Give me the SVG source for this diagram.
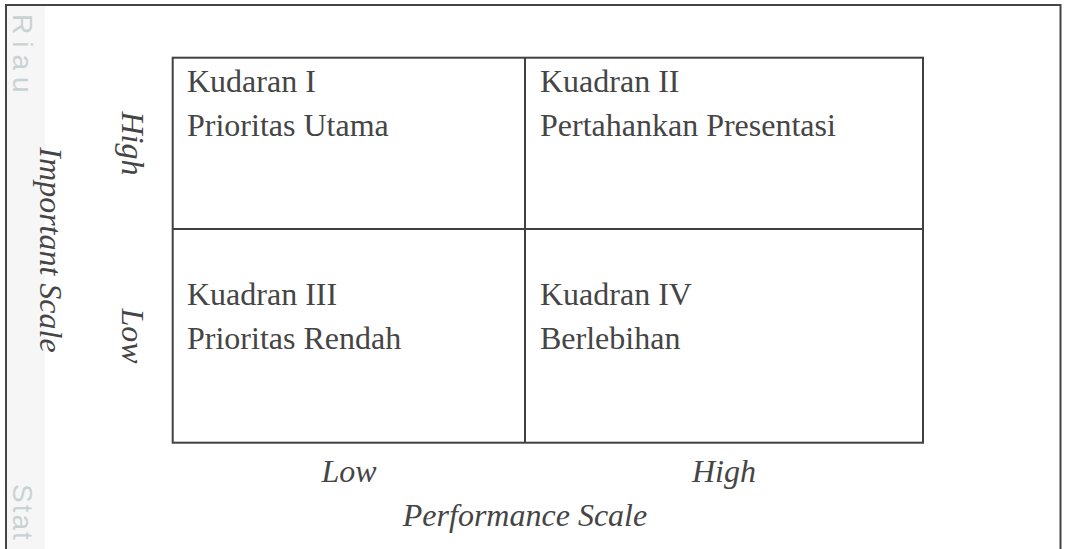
<svg xmlns="http://www.w3.org/2000/svg" width="1066" height="549" viewBox="0 0 1066 549">
  <style>
    .frame { fill: none; stroke: #454545; stroke-width: 2; }
    .grid { fill: none; stroke: #404040; stroke-width: 2; }
    .t { font-family: "Liberation Serif", "Times New Roman", serif; font-size: 32px; fill: #454545; }
    .ax { font-family: "Liberation Serif", "Times New Roman", serif; font-size: 32px; font-style: italic; fill: #454545; text-anchor: middle; }
    .wm { font-family: "Liberation Sans", Arial, sans-serif; font-size: 28px; fill: #c9d2d2; }
  </style>
  <rect x="0" y="0" width="1066" height="549" fill="#ffffff"/>
  <rect x="7" y="6" width="38" height="543" fill="#f6f6f6"/>
  <g id="watermark-text">
    <text class="wm" letter-spacing="7" transform="translate(13,14) rotate(90)">Riau</text>
    <text class="wm" letter-spacing="2" transform="translate(13,484) rotate(90)">Stat</text>
  </g>
  <g id="frame">
    <path class="frame" d="M6,560 L6,5 L1060.5,5 L1060.5,560"/>
  </g>
  <g id="connectors">
    <line class="grid" x1="172.7" y1="229" x2="923" y2="229"/>
    <line class="grid" x1="525" y1="57.7" x2="525" y2="442.7"/>
  </g>
  <g id="grid-border">
    <rect class="grid" x="172.7" y="57.7" width="750.3" height="385"/>
  </g>
  <g id="q1">
    <text class="t" x="187" y="92">Kudaran I</text>
    <text class="t" x="187" y="136">Prioritas Utama</text>
  </g>
  <g id="q2">
    <text class="t" x="540" y="92">Kuadran II</text>
    <text class="t" x="540" y="136">Pertahankan Presentasi</text>
  </g>
  <g id="q3">
    <text class="t" x="187" y="305">Kuadran III</text>
    <text class="t" x="187" y="349">Prioritas Rendah</text>
  </g>
  <g id="q4">
    <text class="t" x="540" y="305">Kuadran IV</text>
    <text class="t" x="540" y="349">Berlebihan</text>
  </g>
  <g id="y-axis">
    <text class="ax" transform="translate(40,250) rotate(90)">Important Scale</text>
    <text class="ax" transform="translate(122,143.4) rotate(90)">High</text>
    <text class="ax" transform="translate(122,336) rotate(90)">Low</text>
  </g>
  <g id="x-axis">
    <text class="ax" x="349" y="481.7">Low</text>
    <text class="ax" x="724" y="481.7">High</text>
    <text class="ax" x="525" y="526">Performance Scale</text>
  </g>
</svg>
